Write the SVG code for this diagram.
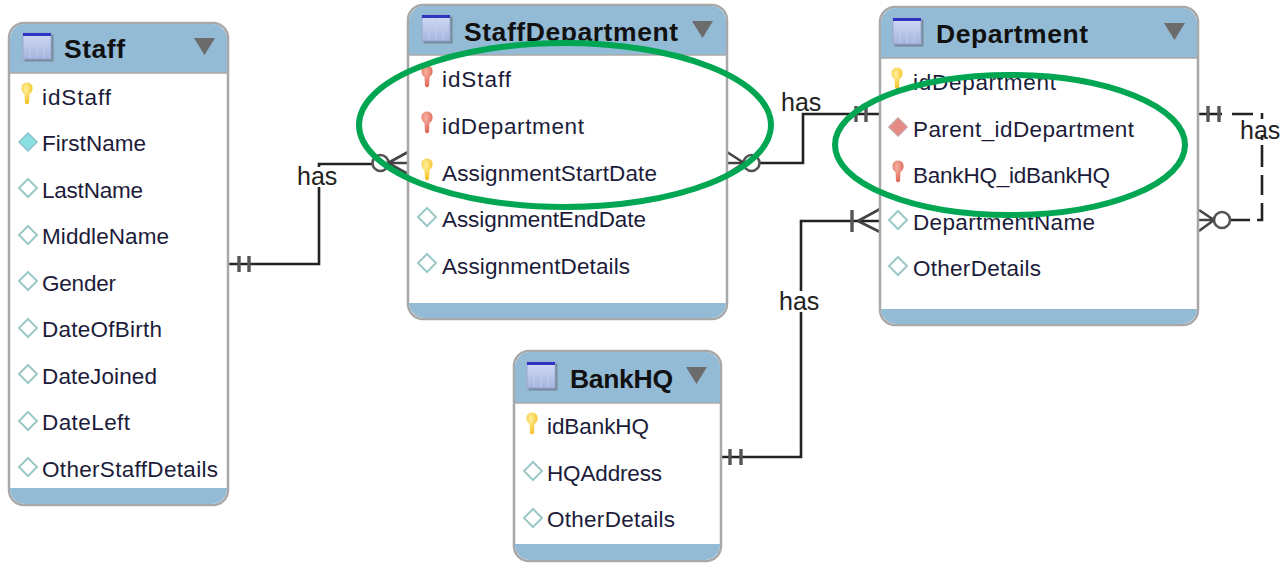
<svg xmlns="http://www.w3.org/2000/svg" xmlns:xlink="http://www.w3.org/1999/xlink" width="1287" height="568" viewBox="0 0 1287 568">
<style>
text{font-family:"Liberation Sans",Arial,sans-serif;fill:#1c1c3a}
.f{font-size:22.5px}
.t{font-size:26.500px;font-weight:bold;fill:#111}
.l{font-size:25px;fill:#222}
.box{fill:#fff;stroke:#a8a8a8;stroke-width:2.5}
.band{fill:#94bbd6}
.c{fill:none;stroke:#222;stroke-width:2.6}
.tick{fill:none;stroke:#555;stroke-width:3.4}
.crow{fill:none;stroke:#444;stroke-width:2.6}
.circ{fill:none;stroke:#555;stroke-width:2.6}
.mask{fill:#fff}
.oval{fill:none;stroke:#00a651;stroke-width:6}
</style>
<defs>
<linearGradient id="ig" x1="0" y1="0" x2="0" y2="1"><stop offset="0" stop-color="#d4dcf4"/><stop offset="1" stop-color="#a4b4e0"/></linearGradient>
<radialGradient id="gy" cx=".4" cy=".3" r=".8"><stop offset="0" stop-color="#fff09a"/><stop offset="1" stop-color="#f0b810"/></radialGradient>
<radialGradient id="rd" cx=".4" cy=".3" r=".8"><stop offset="0" stop-color="#f8b0a0"/><stop offset="1" stop-color="#d85a48"/></radialGradient>
<g id="ticon"><rect x="1.500" y="1.500" width="29" height="27" fill="#555" opacity=".45"/><rect width="28" height="26" fill="url(#ig)" stroke="#9aa6d0"/><rect width="28" height="3" fill="#2c34c0"/><path d="M7 4V25M14 4V25M21 4V25" stroke="#c2cbe8" fill="none"/></g>
<path id="tri" d="M0 0H21L10.500 17Z" fill="#6c6c6c"/>
<path id="ky" d="M1.500 4.500a5.500 5 0 0 1 11 0q.5 4-3 6.500l-.5 9q-2 2.500-4 0l-.500-9q-3.500-2.500-3-6.500Z" fill="url(#gy)"/>
<path id="kr" d="M1.500 4.500a5.500 5 0 0 1 11 0q.5 4-3 6.500l-.5 9q-2 2.500-4 0l-.500-9q-3.500-2.500-3-6.500Z" fill="url(#rd)"/>
<path id="dw" d="M9 0L18 9L9 18L0 9Z" fill="#fff" stroke="#9cc8c8" stroke-width="2"/>
<path id="dc" d="M9 0L18 9L9 18L0 9Z" fill="#8ce0e4" stroke="#8cc0c8" stroke-width="1.500"/>
<path id="dr" d="M9 0L18 9L9 18L0 9Z" fill="#e88a84" stroke="#c8a0a0" stroke-width="1.500"/>
</defs>

<g id="connectors">
<path class="c" d="M229 264H319V164H372"/>
<path class="tick" d="M239 256V272M249 256V272"/>
<circle class="circ" cx="380.500" cy="163" r="8"/>
<path class="crow" d="M388 163H408M388 163L408 152M388 163L408 174"/>
<path class="c" d="M760 163H803V114H880"/>
<path class="tick" d="M856 106V122M866 106V122"/>
<circle class="circ" cx="751.500" cy="163" r="8"/>
<path class="crow" d="M744 163H727M744 163L727 152M744 163L727 174"/>
<path class="c" d="M722 457H801V221H880"/>
<path class="tick" d="M730 449V465M741 449V465M852 210V232"/>
<path class="crow" d="M858 221L880 209M858 221L880 232"/>
<path class="c" d="M1199 114H1222M1232 114H1253M1262 113V119M1262 135V140M1262 145V167M1262 175V195M1262 203V220H1257M1250 220H1231"/>
<path class="tick" d="M1208 106V122M1219 106V122"/>
<circle class="circ" cx="1222" cy="220" r="8"/>
<path class="crow" d="M1214 220H1199M1214 220L1199 210M1214 220L1199 231"/>
<rect class="mask" x="297" y="167" width="42" height="20"/>
<rect class="mask" x="779" y="291" width="42" height="21"/>
<text class="l" x="297" y="185">has</text>
<text class="l" x="781" y="111">has</text>
<text class="l" x="779" y="310">has</text>
<text class="l" x="1240" y="139">has</text>
</g>

<g id="staff">
<rect class="box" x="9" y="23" width="219" height="482" rx="15"/>
<path class="band" d="M10 73V39a15 15 0 0 1 15-15H212a15 15 0 0 1 15 15V73Z"/>
<path class="band" d="M10 488H227V489a15 15 0 0 1-15 15H25a15 15 0 0 1-15-15Z"/>
<path d="M9 73H228" stroke="#a8a8a8" stroke-width="1.500"/>
<use xlink:href="#ticon" x="23" y="33"/>
<text class="t" x="64" y="58" textLength="61">Staff</text>
<use xlink:href="#tri" x="194" y="38"/>
<use xlink:href="#ky" x="20" y="83"/><text class="f" x="42" y="105" textLength="69">idStaff</text>
<use xlink:href="#dc" x="19" y="133"/><text class="f" x="42" y="151" textLength="104">FirstName</text>
<use xlink:href="#dw" x="19" y="179"/><text class="f" x="42" y="198" textLength="101">LastName</text>
<use xlink:href="#dw" x="19" y="226"/><text class="f" x="42" y="244" textLength="127">MiddleName</text>
<use xlink:href="#dw" x="19" y="272"/><text class="f" x="42" y="291" textLength="74">Gender</text>
<use xlink:href="#dw" x="19" y="319"/><text class="f" x="42" y="337" textLength="120">DateOfBirth</text>
<use xlink:href="#dw" x="19" y="365"/><text class="f" x="42" y="384" textLength="115">DateJoined</text>
<use xlink:href="#dw" x="19" y="412"/><text class="f" x="42" y="430" textLength="88">DateLeft</text>
<use xlink:href="#dw" x="19" y="458"/><text class="f" x="42" y="477" textLength="176">OtherStaffDetails</text>
</g>

<g id="staffdepartment">
<rect class="box" x="408" y="5" width="319" height="314" rx="15"/>
<path class="band" d="M409 55V21a15 15 0 0 1 15-15H711a15 15 0 0 1 15 15V55Z"/>
<path class="band" d="M409 303H726V303a15 15 0 0 1-15 15H424a15 15 0 0 1-15-15Z"/>
<path d="M408 55H727" stroke="#a8a8a8" stroke-width="1.500"/>
<use xlink:href="#ticon" x="422" y="15"/>
<text class="t" x="464" y="41" textLength="214">StaffDepartment</text>
<use xlink:href="#tri" x="692" y="21"/>
<use xlink:href="#kr" x="420" y="66"/><text class="f" x="442" y="87" textLength="69">idStaff</text>
<use xlink:href="#kr" x="420" y="112"/><text class="f" x="442" y="134" textLength="142">idDepartment</text>
<use xlink:href="#ky" x="420" y="159"/><text class="f" x="442" y="181" textLength="215">AssignmentStartDate</text>
<use xlink:href="#dw" x="418" y="208"/><text class="f" x="442" y="227" textLength="204">AssignmentEndDate</text>
<use xlink:href="#dw" x="418" y="254"/><text class="f" x="442" y="274" textLength="188">AssignmentDetails</text>
</g>

<g id="department">
<rect class="box" x="880" y="7" width="318" height="318" rx="15"/>
<path class="band" d="M881 58V23a15 15 0 0 1 15-15H1182a15 15 0 0 1 15 15V58Z"/>
<path class="band" d="M881 309H1197V309a15 15 0 0 1-15 15H896a15 15 0 0 1-15-15Z"/>
<path d="M880 58H1198" stroke="#a8a8a8" stroke-width="1.500"/>
<use xlink:href="#ticon" x="893" y="18"/>
<text class="t" x="936" y="43" textLength="152">Department</text>
<use xlink:href="#tri" x="1164" y="23"/>
<use xlink:href="#ky" x="890" y="68"/><text class="f" x="913" y="90" textLength="143">idDepartment</text>
<use xlink:href="#dr" x="889" y="118"/><text class="f" x="913" y="137" textLength="221">Parent_idDepartment</text>
<use xlink:href="#kr" x="891" y="161"/><text class="f" x="913" y="183" textLength="197">BankHQ_idBankHQ</text>
<use xlink:href="#dw" x="889" y="211"/><text class="f" x="913" y="230" textLength="182">DepartmentName</text>
<use xlink:href="#dw" x="889" y="257"/><text class="f" x="913" y="276" textLength="128">OtherDetails</text>
</g>

<g id="bankhq">
<rect class="box" x="514" y="351" width="207" height="210" rx="15"/>
<path class="band" d="M515 403V367a15 15 0 0 1 15-15H705a15 15 0 0 1 15 15V403Z"/>
<path class="band" d="M515 544H720V545a15 15 0 0 1-15 15H530a15 15 0 0 1-15-15Z"/>
<path d="M514 403H721" stroke="#a8a8a8" stroke-width="1.500"/>
<use xlink:href="#ticon" x="527" y="362"/>
<text class="t" x="570" y="388" textLength="103">BankHQ</text>
<use xlink:href="#tri" x="686" y="367"/>
<use xlink:href="#ky" x="525" y="413"/><text class="f" x="547" y="434" textLength="102">idBankHQ</text>
<use xlink:href="#dw" x="524" y="462"/><text class="f" x="547" y="481" textLength="115">HQAddress</text>
<use xlink:href="#dw" x="524" y="509"/><text class="f" x="547" y="527" textLength="128">OtherDetails</text>
</g>

<ellipse class="oval" cx="565" cy="125" rx="206" ry="82"/>
<ellipse class="oval" cx="1010" cy="145" rx="175" ry="70"/>
</svg>
